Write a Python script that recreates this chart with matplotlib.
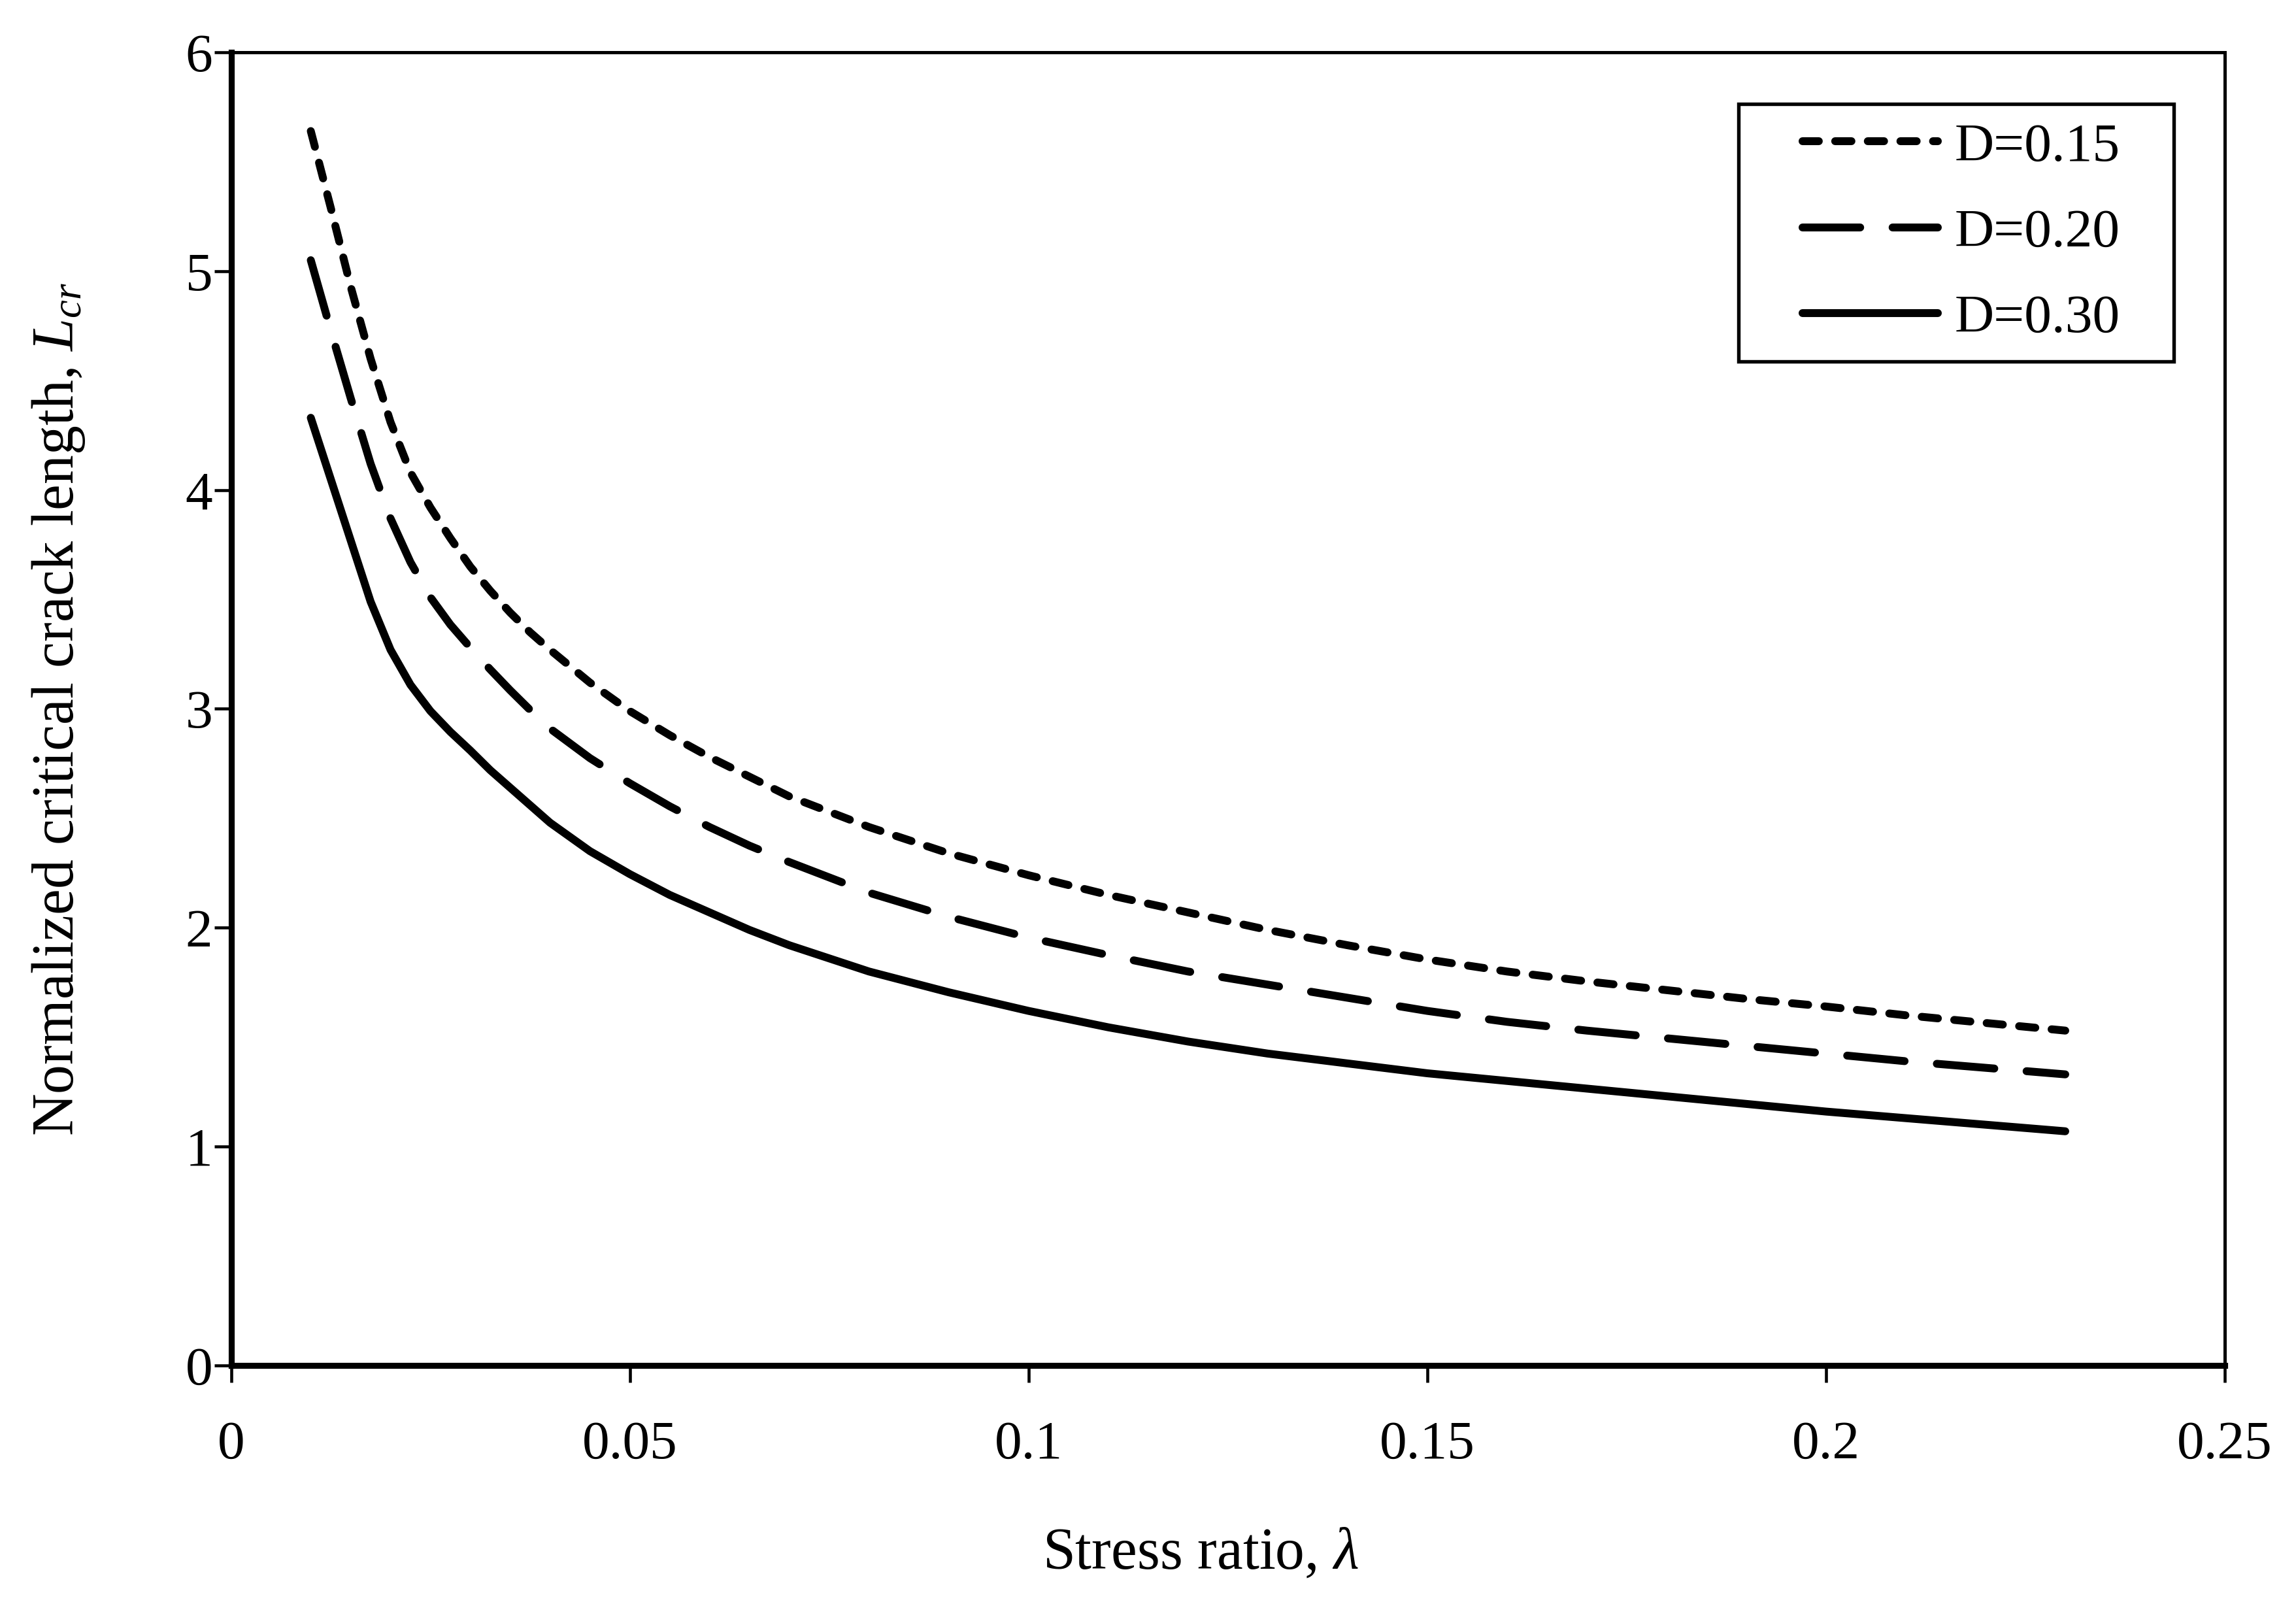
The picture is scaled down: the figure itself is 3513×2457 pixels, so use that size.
import matplotlib
matplotlib.use("Agg")
import matplotlib.pyplot as plt
from matplotlib.patches import Rectangle
from matplotlib.ticker import MultipleLocator, FuncFormatter

# stress ratio (lambda)
lam = [0.01, 0.0125, 0.015, 0.0175, 0.02, 0.0225, 0.025, 0.0275, 0.03,
       0.0325, 0.035, 0.0375, 0.04, 0.045, 0.05, 0.055, 0.06, 0.065, 0.07,
       0.08, 0.09, 0.10, 0.11, 0.12, 0.13, 0.14, 0.15, 0.16, 0.17, 0.18,
       0.19, 0.20, 0.21, 0.22, 0.23]

# normalized critical crack length
L_d015 = [5.64, 5.29, 4.93, 4.60, 4.31, 4.08, 3.92, 3.78, 3.65,
          3.54, 3.44, 3.35, 3.27, 3.12, 2.99, 2.88, 2.78, 2.69, 2.60,
          2.46, 2.34, 2.24, 2.15, 2.07, 1.99, 1.92, 1.855, 1.80, 1.755, 1.715,
          1.675, 1.64, 1.60, 1.565, 1.53]
L_d020 = [5.05, 4.73, 4.42, 4.12, 3.87, 3.67, 3.51, 3.385, 3.28,
          3.18, 3.085, 2.995, 2.91, 2.775, 2.66, 2.555, 2.46, 2.375, 2.30,
          2.16, 2.05, 1.955, 1.875, 1.80, 1.74, 1.68, 1.62, 1.57, 1.53, 1.495,
          1.46, 1.425, 1.39, 1.36, 1.33]
L_d030 = [4.33, 4.05, 3.77, 3.49, 3.27, 3.11, 2.99, 2.895, 2.81,
          2.72, 2.64, 2.56, 2.48, 2.35, 2.245, 2.15, 2.07, 1.99, 1.92,
          1.80, 1.705, 1.62, 1.545, 1.48, 1.425, 1.38, 1.335, 1.30, 1.265, 1.23,
          1.195, 1.16, 1.13, 1.10, 1.07]

labels = ["D=0.15", "D=0.20", "D=0.30"]

plt.rcParams["font.family"] = ["Liberation Serif", "DejaVu Serif"]
plt.rcParams["mathtext.fontset"] = "custom"
plt.rcParams["mathtext.rm"] = "Liberation Serif"
plt.rcParams["mathtext.it"] = "Liberation Serif:italic"
plt.rcParams["font.size"] = 20

fig = plt.figure(figsize=(11.71, 8.19), dpi=300)
ax = fig.add_axes([0.10063, 0.14978, 0.96897 - 0.10063, 0.96744 - 0.14978])

lw = 2.9
ax.plot(lam, L_d015, color="black", lw=lw, dashes=(2.06, 2.07),
        dash_capstyle="round", label=labels[0])
ax.plot(lam, L_d020, color="black", lw=lw, dashes=(7.3, 4.1),
        dash_capstyle="round", label=labels[1])
ax.plot(lam, L_d030, color="black", lw=lw, solid_capstyle="round",
        label=labels[2])

ax.set_xlim(0, 0.25)
ax.set_ylim(0, 6)
ax.xaxis.set_major_locator(MultipleLocator(0.05))
ax.yaxis.set_major_locator(MultipleLocator(1))
ax.xaxis.set_major_formatter(FuncFormatter(lambda v, _: f"{v:g}"))
ax.yaxis.set_major_formatter(FuncFormatter(lambda v, _: f"{v:g}"))

ax.tick_params(axis="both", direction="out", length=6.2, width=1.1,
               colors="black", labelsize=20)
ax.tick_params(axis="x", pad=14)
ax.tick_params(axis="y", pad=0.6)

for side in ["top", "right"]:
    ax.spines[side].set_linewidth(1.2)
for side in ["left", "bottom"]:
    ax.spines[side].set_linewidth(2.2)

ax.set_xlabel(r"Stress ratio, $\lambda$", fontsize=21.5)
ax.xaxis.set_label_coords(0.4863, -0.123)
ax.set_ylabel(r"Normalized critical crack length, $L_{cr}$", fontsize=21.5)
ax.yaxis.set_label_coords(-0.0723, 0.5)

leg = ax.legend(loc="center left", bbox_to_anchor=(0.7882, 0.8623),
                frameon=False, fontsize=20, handlelength=2.49,
                handletextpad=0.3, labelspacing=0.66, borderpad=0,
                borderaxespad=0)
ax.add_patch(Rectangle((0.756, 0.7647), 0.9744 - 0.756, 0.9607 - 0.7647,
                       transform=ax.transAxes, fill=False,
                       edgecolor="black", lw=1.3, zorder=5))

fig.savefig("out.png", dpi=300)
